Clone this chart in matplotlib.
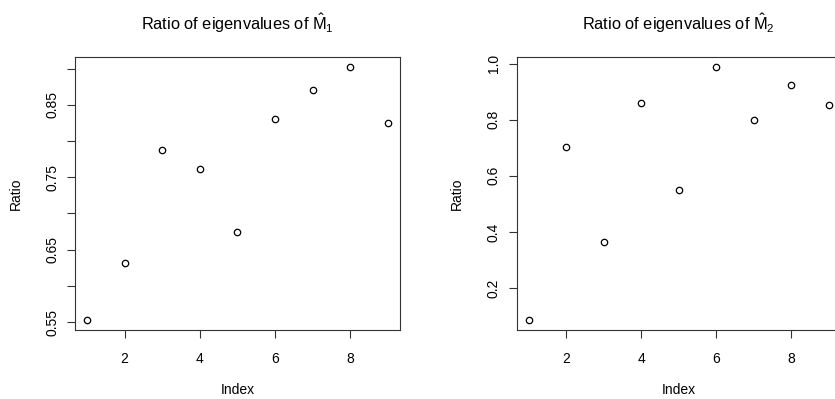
import numpy as np
import matplotlib
matplotlib.use("Agg")
import matplotlib.pyplot as plt

# DATA

index = [1, 2, 3, 4, 5, 6, 7, 8, 9]
ratio_m1 = [0.553, 0.632, 0.788, 0.762, 0.675, 0.831, 0.871, 0.902, 0.825]
ratio_m2 = [0.086, 0.703, 0.364, 0.860, 0.549, 0.988, 0.798, 0.923, 0.854]

titles = [r"Ratio of eigenvalues of $\hat{\mathrm{M}}_1$",
          r"Ratio of eigenvalues of $\hat{\mathrm{M}}_2$"]

m1_ticks = [0.55, 0.60, 0.65, 0.70, 0.75, 0.80, 0.85, 0.90]
m1_labels = ["0.55", "", "0.65", "", "0.75", "", "0.85", ""]
m2_ticks = [0.2, 0.4, 0.6, 0.8, 1.0]
m2_labels = ["0.2", "0.4", "0.6", "0.8", "1.0"]
x_ticks = [2, 4, 6, 8]

# STYLE

plt.rcParams['font.family'] = ['Liberation Sans', 'DejaVu Sans']
plt.rcParams['mathtext.fontset'] = 'custom'
plt.rcParams['mathtext.rm'] = 'Liberation Sans'
plt.rcParams['mathtext.it'] = 'Liberation Sans:italic'

W, H = 835, 399
fig = plt.figure(figsize=(W / 100, H / 100), dpi=100)

# axes boxes in pixels: left, top, right, bottom
boxes = [(75, 57, 400, 330), (516.7, 57, 841, 330)]
series = [ratio_m1, ratio_m2]
yticks = [(m1_ticks, m1_labels), (m2_ticks, m2_labels)]


def pad_range(vals):
    lo, hi = min(vals), max(vals)
    d = (hi - lo) * 0.04
    return lo - d, hi + d


for k in range(2):
    l, t, r, b = boxes[k]
    ax = fig.add_axes([l / W, 1 - b / H, (r - l) / W, (b - t) / H])
    ax.plot(index, series[k], 'o', mfc='none', mec='black', ms=4.6, mew=0.9,
            clip_on=False)
    ax.set_xlim(*pad_range(index))
    ax.set_ylim(*pad_range(series[k]))
    ax.set_xticks(x_ticks)
    ax.set_yticks(yticks[k][0])
    ax.set_yticklabels(yticks[k][1], rotation=90, va='center')
    ax.tick_params(direction='out', length=6, width=0.8, labelsize=10,
                   color='#333333')
    ax.tick_params(axis='x', pad=9.5)
    ax.tick_params(axis='y', pad=5.5)
    for s in ax.spines.values():
        s.set_linewidth(0.8)
        s.set_color('#333333')
    ax.set_xlabel("Index", fontsize=10, va='center')
    ax.set_ylabel("Ratio", fontsize=10, va='center')
    ax.xaxis.set_label_coords(0.5, -(390 - b) / (b - t))
    ax.yaxis.set_label_coords(-(l - 15.5) / (r - l) if k == 0 else -60 / (r - l), 0.5)
    ax.set_title(titles[k], fontsize=11.8, pad=19.5)

fig.savefig("out.png", dpi=100)
